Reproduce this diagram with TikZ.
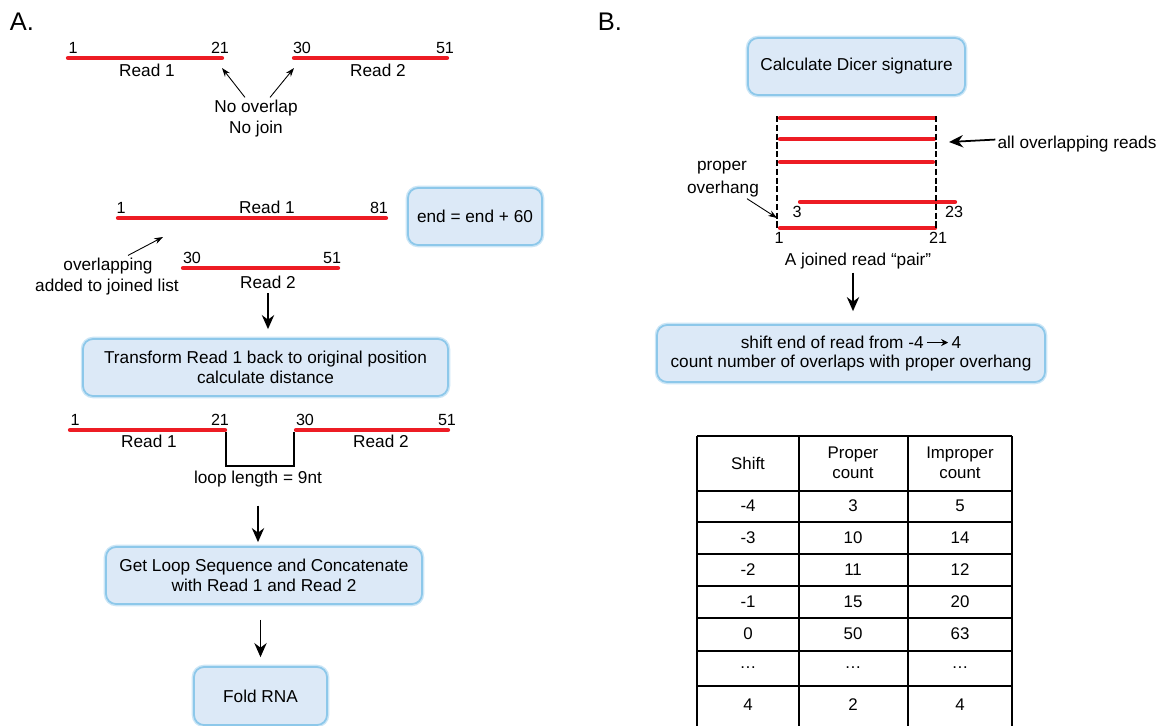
\documentclass[tikz,border=0pt]{standalone}
\usepackage{fontspec}
\setmainfont{Liberation Sans}
\usepackage{tikz}
\usetikzlibrary{arrows.meta}
\definecolor{readred}{HTML}{ED1C24}
\definecolor{boxfill}{HTML}{DCE9F7}
\definecolor{boxedge}{HTML}{8DC8EA}

\tikzset{
  readline/.style={draw=readred, line width=2.4pt, line cap=round},
  stepbox/.style={draw=boxedge, fill=boxfill, line width=1pt, rounded corners=0.2cm,
    align=center, inner sep=0pt, font=\fontsize{9.8}{11.3}\selectfont,
    preaction={draw=boxedge!45, line width=2.6pt}},
  txt/.style={font=\fontsize{9.8}{11}\selectfont, inner sep=1pt},
  num/.style={font=\fontsize{9.2}{10}\selectfont, inner sep=0pt},
  flow/.style={-{Stealth[length=8pt,width=7pt]}, line width=1pt},
  pointer/.style={-{Stealth[length=5pt,width=3.5pt]}, line width=0.5pt},
  guide/.style={dashed, dash pattern=on 3.5pt off 1.5pt, line width=0.8pt},
  cell/.style={font=\fontsize{9.6}{11.3}\selectfont, align=center, inner sep=0pt}
}

\begin{document}
\begin{tikzpicture}[x=0.02cm, y=-0.02cm]
    \useasboundingbox (0,0) rectangle (1171,725);

    % Panel labels
    \node[font=\fontsize{14.5}{16}\selectfont] (labA) at (22,22) {A.};
    \node[font=\fontsize{14.5}{16}\selectfont] (labB) at (610,22) {B.};

    %%% A: reads that do not overlap
    \coordinate (a1s) at (68,58);  \coordinate (a1e) at (222,58);
    \coordinate (a2s) at (294,58); \coordinate (a2e) at (447,58);
    \draw[readline] (a1s) -- (a1e);
    \draw[readline] (a2s) -- (a2e);
    \node[num, anchor=base] (a1n1) at (73,53) {1};
    \node[num, anchor=base] (a1n2) at (220,53) {21};
    \node[num, anchor=base] (a2n1) at (302,53) {30};
    \node[num, anchor=base] (a2n2) at (445,53) {51};
    \node[txt, anchor=base] (a1lab) at (147,76) {Read 1};
    \node[txt, anchor=base] (a2lab) at (378,76) {Read 2};
    \node[txt, anchor=base] (noov) at (256,112) {No overlap};
    \node[txt, anchor=base] (nojoin) at (256,133) {No join};
    \draw[pointer] ([xshift=-0.22cm]noov.north) -- ([yshift=-0.2cm]a1e);
    \draw[pointer] ([xshift=0.28cm]noov.north) -- ([yshift=-0.2cm]a2s);

    %%% A: overlapping reads
    \coordinate (b1s) at (118,218); \coordinate (b1e) at (386,218);
    \coordinate (b2s) at (183,268); \coordinate (b2e) at (338,268);
    \draw[readline] (b1s) -- (b1e);
    \draw[readline] (b2s) -- (b2e);
    \node[num, anchor=base] (b1n1) at (121,213) {1};
    \node[num, anchor=base] (b1n2) at (379,213) {81};
    \node[txt, anchor=base] (b1lab) at (267,213) {Read 1};
    \node[num, anchor=base] (b2n1) at (192,263) {30};
    \node[num, anchor=base] (b2n2) at (332,263) {51};
    \node[txt, anchor=base] (b2lab) at (268,288) {Read 2};
    \node[stepbox, minimum width=2.68cm, minimum height=1.14cm] (endbox) at (475,216.5) {end = end + 60};
    \node[txt, anchor=base] (ovlp) at (108,270) {overlapping};
    \node[txt, anchor=base] (added) at (107,291) {added to joined list};
    \coordinate (ovtip) at (163,237);
    \draw[pointer] ([xshift=0.4cm]ovlp.north) -- (ovtip);

    % transform back
    \node[stepbox, minimum width=7.3cm, minimum height=1.14cm] (transf) at (265.5,367.5)
        {Transform Read 1 back to original position\\calculate distance};
    \draw[flow, shorten <=0.06cm, shorten >=0.18cm] (b2lab) -- (b2lab |- transf.north);

    %%% A: reads with loop between them
    \coordinate (c1s) at (70,430);  \coordinate (c1e) at (225,430);
    \coordinate (c2s) at (296,430); \coordinate (c2e) at (448,430);
    \draw[readline] (c1s) -- (c1e);
    \draw[readline] (c2s) -- (c2e);
    \node[num, anchor=base] (c1n1) at (75,425) {1};
    \node[num, anchor=base] (c1n2) at (220,425) {21};
    \node[num, anchor=base] (c2n1) at (305,425) {30};
    \node[num, anchor=base] (c2n2) at (447,425) {51};
    \node[txt, anchor=base] (c1lab) at (149,447) {Read 1};
    \node[txt, anchor=base] (c2lab) at (381,447) {Read 2};
    \draw[line width=1.5pt] (226,432) -- (226,466) -- (294,466) -- (294,432);
    \node[txt, anchor=base] (loop) at (258,483) {loop length = 9nt};

    % concatenate and fold
    \node[stepbox, minimum width=6.32cm, minimum height=1.14cm] (concat) at (264,575.5)
        {Get Loop Sequence and Concatenate\\with Read 1 and Read 2};
    \node[stepbox, minimum width=2.66cm, minimum height=1.16cm] (fold) at (260.5,696) {Fold RNA};
    \draw[flow, shorten <=0.34cm, shorten >=0.08cm] (loop) -- (loop |- concat.north);
    \draw[flow, shorten <=0.3cm, shorten >=0.18cm] (fold |- concat.south) -- (fold);

    %%% B: Dicer signature
    \node[stepbox, minimum width=4.34cm, minimum height=1.14cm] (dicer) at (856.5,66.5) {Calculate Dicer signature};

    % stacked reads
    \draw[readline] (780,118) -- (935,118);
    \draw[readline] (780,139) -- (934,139);
    \draw[readline] (780,162) -- (933,162);
    \draw[readline] (800,202) -- (955,202);
    \draw[readline] (780,228) -- (935,228);
    \draw[guide] (777,116) -- (777,229);
    \draw[guide] (936,116) -- (936,230);
    \node[num, anchor=base] (d4n1) at (797,217) {3};
    \node[num, anchor=base] (d4n2) at (954,217) {23};
    \node[num, anchor=base] (d5n1) at (779,243) {1};
    \node[num, anchor=base] (d5n2) at (938,243) {21};

    \node[txt, anchor=base] (allov) at (1077,148) {all overlapping reads};
    \coordinate (alltip) at (949,142);
    \draw[flow] ([yshift=0.08cm]allov.west) -- (alltip);
    \node[txt, anchor=base] (proper) at (722,170) {proper};
    \node[txt, anchor=base] (ovhang) at (723,193) {overhang};
    \coordinate (ovhtip) at (777,218);
    \draw[pointer] ([xshift=0.48cm]ovhang.south) -- (ovhtip);
    \node[txt, anchor=base] (pair) at (858,265) {A joined read \textquotedblleft pair\textquotedblright};

    % shift step
    \node[stepbox, minimum width=7.76cm, minimum height=1.14cm] (shift) at (851,353.5)
        {shift end of read from -4\,\tikz[baseline=-0.6ex]\draw[-{Stealth[length=4pt,width=4pt]}, line width=0.6pt] (0pt,0pt) -- (12pt,0pt);\,4\\count number of overlaps with proper overhang};
    \draw[flow, shorten <=0.04cm, shorten >=0.26cm] ([xshift=-0.1cm]pair.south) -- ([xshift=-0.1cm]pair.south |- shift.north);

    % table of counts
    \foreach \xx in {697,799,908,1012}
        \draw[line width=0.7pt] (\xx,436) -- (\xx,726);
    \foreach \yy in {436,491,522,554,586,618,651,686}
        \draw[line width=0.7pt] (697,\yy) -- (1012,\yy);
    \node[cell] (hshift) at (748,463) {Shift};
    \node[cell] (hprop) at (853,463) {Proper\\count};
    \node[cell] (himp) at (960,463) {Improper\\count};
    \foreach \yy/\sh/\pr/\im [count=\i] in {506/-4/3/5, 538/-3/10/14, 570/-2/11/12, 602/-1/15/20,
        634/0/50/63, 668/\ldots/\ldots/\ldots, 705/4/2/4} {
        \node[cell] (sh\i) at (748,\yy) {\sh};
        \node[cell] (pr\i) at (853,\yy) {\pr};
        \node[cell] (im\i) at (960,\yy) {\im};
    }
\end{tikzpicture}
\end{document}
